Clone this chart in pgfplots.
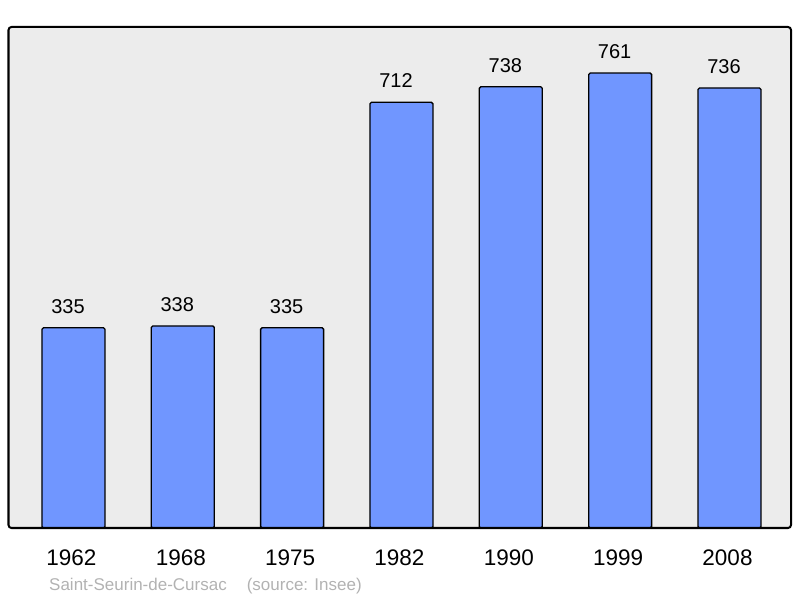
\documentclass[border=0pt]{standalone}
\usepackage{fontspec}
\setmainfont{Liberation Sans}
\usepackage{pgfplots}
\pgfplotsset{compat=1.18}
\definecolor{barblue}{RGB}{112,150,255}
\definecolor{bggray}{RGB}{236,236,236}
\definecolor{footgray}{RGB}{178,178,178}
\begin{document}
\begin{tikzpicture}
\useasboundingbox (0,0) rectangle (800bp,598bp);
\begin{axis}[
  at={(8.5bp,70bp)}, anchor=south west,
  scale only axis, width=782.5bp, height=501bp,
  xmin=-0.594, xmax=6.5625, ymin=0, ymax=838,
  axis line style={draw=none},
  axis background/.style={fill=bggray},
  ytick=\empty,
  xtick=data,
  xticklabels={1962,1968,1975,1982,1990,1999,2008},
  major tick length=0pt,
  xticklabel style={font=\fontsize{22.5bp}{26bp}\selectfont, anchor=base, yshift=-37bp, xshift=-2bp},
  ybar, bar width=0.576,
  nodes near coords,
  nodes near coords style={font=\fontsize{20bp}{24bp}\selectfont, anchor=base, yshift=14.5bp, xshift=-5.5bp},
  /pgf/number format/assume math mode=true,
  after end axis/.code={
    \draw[line width=2bp, rounded corners=3bp] (rel axis cs:0,0) rectangle (rel axis cs:1,1);
  },
]
\addplot[fill=barblue, draw=black, line width=1.3bp, rounded corners=1.5bp] coordinates {
  (0,335) (1,338) (2,335) (3,712) (4,738) (5,761) (6,736)
};
\end{axis}
\node[anchor=base west, inner sep=0pt, text=footgray, font=\fontsize{17bp}{20bp}\selectfont] at (49bp,8bp) {Saint-Seurin-de-Cursac\hspace{20bp}(source: Insee)};
\end{tikzpicture}
\end{document}
